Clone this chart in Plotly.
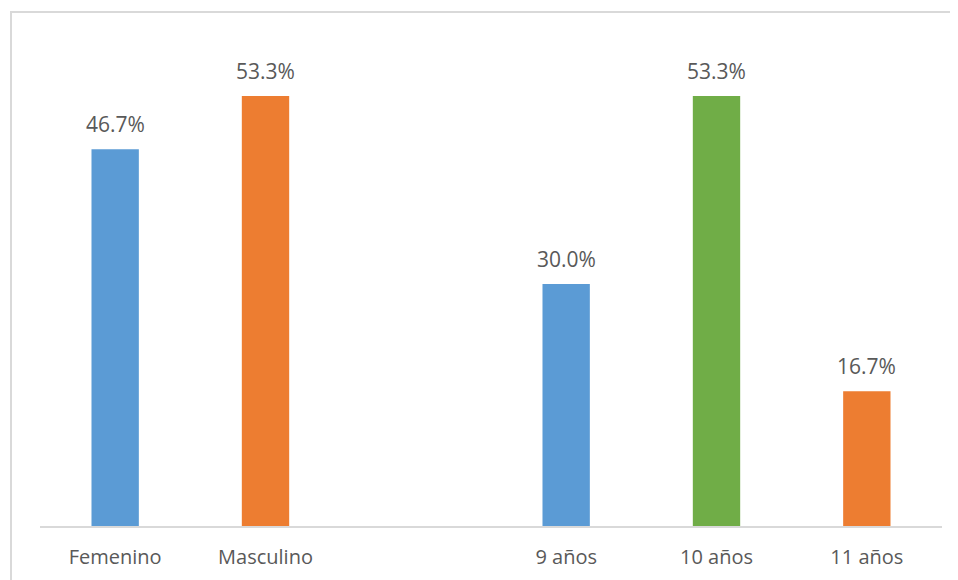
import plotly.graph_objects as go

categories = ["Femenino", "Masculino", " ", "9 años", "10 años", "11 años"]
bar_categories = ["Femenino", "Masculino", "9 años", "10 años", "11 años"]
values = [46.7, 53.3, 30.0, 53.3, 16.7]
labels = ["46.7%", "53.3%", "30.0%", "53.3%", "16.7%"]
colors = ["#5B9BD5", "#ED7D31", "#5B9BD5", "#70AD47", "#ED7D31"]

font_family = "Open Sans"
text_color = "#595959"

fig = go.Figure()
fig.add_trace(go.Bar(
    x=bar_categories,
    y=values,
    marker=dict(color=colors, line=dict(width=0)),
    width=0.315,
    hoverinfo="skip",
))

annotations = []
for c, v, t in zip(bar_categories, values, labels):
    annotations.append(dict(
        x=c, y=v, xref="x", yref="y", text=t, showarrow=False,
        yanchor="bottom", yshift=9,
        font=dict(family=font_family, size=21, color=text_color),
    ))

fig.update_layout(
    width=958, height=580,
    margin=dict(l=32, r=24, t=34, b=62),
    paper_bgcolor="white", plot_bgcolor="white",
    showlegend=False,
    annotations=annotations,
    shapes=[dict(
        type="rect", xref="paper", yref="paper",
        x0=-29 / 902, x1=1.2, y0=-0.3, y1=(526 - 12) / 484,
        line=dict(color="#d9d9d9", width=2), fillcolor="rgba(0,0,0,0)",
        layer="below",
    )],
    xaxis=dict(
        type="category", categoryorder="array", categoryarray=categories,
        range=[-0.5, 5.5],
        showline=True, linecolor="#d9d9d9", linewidth=2,
        showgrid=False, zeroline=False, ticks="",
        ticklabelstandoff=12,
        tickfont=dict(family=font_family, size=20, color=text_color),
    ),
    yaxis=dict(
        range=[0, 60], visible=False, showgrid=False, zeroline=False,
    ),
)

fig.write_html("out.html")
